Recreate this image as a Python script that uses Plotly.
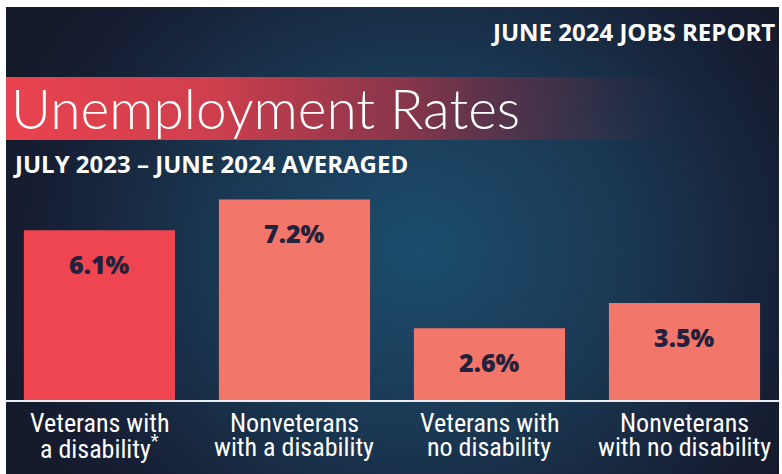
import base64
import plotly.graph_objects as go

# Data
categories = [
    "Veterans with<br>a disability<sup>*</sup>",
    "Nonveterans<br>with a disability",
    "Veterans with<br>no disability",
    "Nonveterans<br>with no disability",
]
rates = [6.1, 7.2, 2.6, 3.5]
bar_colors = ["#ef4550", "#f2766a", "#f2766a", "#f2766a"]
value_labels = [f"{v:.1f}%" for v in rates]

W, H = 782, 474

# Background: dark navy panel with a soft blue glow and a red title band
svg = f"""<svg xmlns='http://www.w3.org/2000/svg' width='{W}' height='{H}' viewBox='0 0 {W} {H}'>
<defs>
<radialGradient id='glow' gradientUnits='userSpaceOnUse' cx='0' cy='0' r='1'
  gradientTransform='translate(420 250) scale(450 400)'>
  <stop offset='0' stop-color='#1c4d6d'/>
  <stop offset='0.45' stop-color='#1a3853'/>
  <stop offset='0.85' stop-color='#161e33'/>
  <stop offset='1' stop-color='#151a2b'/>
</radialGradient>
<linearGradient id='band' gradientUnits='userSpaceOnUse' x1='6' y1='0' x2='680' y2='0'>
  <stop offset='0' stop-color='#e9434f' stop-opacity='1'/>
  <stop offset='0.3' stop-color='#cf3f4d' stop-opacity='1'/>
  <stop offset='0.6' stop-color='#923549' stop-opacity='0.9'/>
  <stop offset='0.82' stop-color='#5a2d44' stop-opacity='0.55'/>
  <stop offset='1' stop-color='#3a2a40' stop-opacity='0'/>
</linearGradient>
</defs>
<rect x='0' y='0' width='{W}' height='{H}' fill='#ffffff'/>
<rect x='6' y='7' width='773' height='{H - 7}' fill='url(#glow)'/>
<rect x='6' y='77' width='773' height='63' fill='url(#band)'/>
</svg>"""
bg_src = "data:image/svg+xml;base64," + base64.b64encode(svg.encode()).decode()

fig = go.Figure()
fig.add_trace(go.Bar(
    x=categories,
    y=rates,
    marker=dict(color=bar_colors, line=dict(width=0)),
    width=0.775,
    hoverinfo="skip",
))

label_font = "Roboto Condensed, Liberation Sans Narrow, DejaVu Sans Condensed, sans-serif"
for c, v, t in zip(categories, rates, value_labels):
    # Value label inside the top of each bar
    fig.add_annotation(
        x=c, y=v, xref="x", yref="y", text=t, showarrow=False,
        yanchor="middle", yshift=-34,
        font=dict(family="Open Sans, Lato, sans-serif", size=25, color="#22223d", weight=800),
    )
    # Category label under the baseline, one annotation per line for tight leading
    for i, line in enumerate(c.split("<br>")):
        fig.add_annotation(
            x=c, y=0, xref="x", yref="y", text=line, showarrow=False,
            yanchor="middle", yshift=-(22 + 24 * i),
            font=dict(family=label_font, size=26, color="#ffffff"),
        )

# Baseline
fig.add_shape(type="line", xref="paper", yref="y", x0=6 / W, x1=779 / W, y0=0, y1=0,
              line=dict(color="#e8eef4", width=2))

# Header texts
fig.add_annotation(
    x=777 / W, y=1 - 32 / H, xref="paper", yref="paper", xanchor="right", yanchor="middle",
    text="JUNE 2024 JOBS REPORT", showarrow=False,
    font=dict(family="Open Sans, Lato, sans-serif", size=24, color="#ffffff", weight=700),
)
fig.add_annotation(
    x=9 / W, y=1 - 108 / H, xref="paper", yref="paper", xanchor="left", yanchor="middle",
    text="Unemployment Rates", showarrow=False,
    font=dict(family="Lato, sans-serif", size=55, color="#ffffff", weight=300),
)
fig.add_annotation(
    x=11 / W, y=1 - 163 / H, xref="paper", yref="paper", xanchor="left", yanchor="middle",
    text="JULY 2023 \u2013 JUNE 2024 AVERAGED", showarrow=False,
    font=dict(family="Open Sans, Lato, sans-serif", size=24, color="#ffffff", weight=700),
)

px_per_unit = 28.0
zero_px = 401.0
fig.update_layout(
    width=W, height=H,
    margin=dict(l=0, r=0, t=0, b=0),
    paper_bgcolor="#ffffff",
    plot_bgcolor="rgba(0,0,0,0)",
    showlegend=False,
    xaxis=dict(range=[-0.51, 3.5], showticklabels=False, showgrid=False, zeroline=False,
               fixedrange=True),
    yaxis=dict(range=[-(H - zero_px) / px_per_unit, zero_px / px_per_unit],
               showticklabels=False, showgrid=False, zeroline=False, fixedrange=True),
    images=[dict(source=bg_src, xref="paper", yref="paper", x=0, y=1, sizex=1, sizey=1,
                 sizing="stretch", xanchor="left", yanchor="top", layer="below")],
)

fig.write_html("out.html", config={"displayModeBar": False})
